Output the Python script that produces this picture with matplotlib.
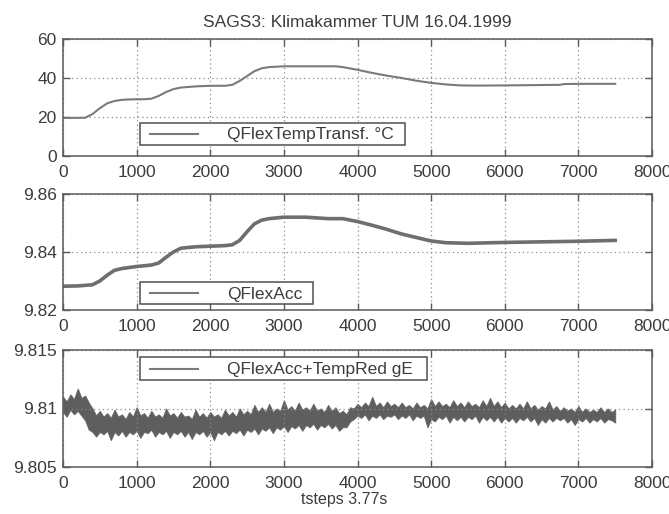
import numpy as np
import matplotlib
matplotlib.use("Agg")
import matplotlib.pyplot as plt
from matplotlib.patches import Rectangle
from matplotlib.lines import Line2D

plt.rcParams['font.family'] = ['Liberation Sans', 'DejaVu Sans']

title = "SAGS3: Klimakammer TUM 16.04.1999"
xlabel = "tsteps 3.77s"
xticks = [0, 1000, 2000, 3000, 4000, 5000, 6000, 7000, 8000]

# --- top panel: temperature
temp_label = "QFlexTempTransf. °C"
temp_x = [0, 300, 400, 500, 600, 700, 800, 900, 1000, 1100, 1200, 1300, 1400, 1500,
          1600, 1700, 1800, 2000, 2200, 2300, 2400, 2500, 2600, 2700, 2800, 3000,
          3500, 3700, 3800, 4000, 4200, 4400, 4600, 4800, 5000, 5200, 5400, 5600,
          6000, 6500, 6750, 6800, 7000, 7500]
temp_y = [19.5, 19.6, 21.5, 24.5, 27.0, 28.2, 28.8, 29.0, 29.1, 29.1, 29.4, 30.8, 32.8, 34.3,
          35.1, 35.4, 35.7, 36.0, 36.0, 36.5, 38.5, 41.0, 43.5, 45.0, 45.6, 46.0,
          46.0, 46.0, 45.6, 44.2, 42.6, 41.2, 40.0, 38.6, 37.5, 36.7, 36.2, 36.1,
          36.2, 36.4, 36.5, 36.9, 37.0, 37.0]

# --- middle panel: acceleration
acc_label = "QFlexAcc"
acc_x = [0, 200, 400, 500, 600, 700, 800, 1000, 1200, 1300, 1400, 1500, 1600, 1800,
         2000, 2200, 2300, 2400, 2500, 2600, 2700, 2800, 3000, 3300, 3600, 3800, 4000,
         4200, 4400, 4600, 4800, 5000, 5200, 5500, 6000, 6500, 7000, 7500]
acc_y = [9.8282, 9.8283, 9.8287, 9.8300, 9.8320, 9.8337, 9.8343, 9.8350, 9.8355, 9.8362,
         9.8382, 9.8400, 9.8413, 9.8418, 9.8420, 9.8422, 9.8425, 9.8440, 9.8470, 9.8497,
         9.8510, 9.8515, 9.8520, 9.8520, 9.8515, 9.8515, 9.8505, 9.8492, 9.8478, 9.8462,
         9.8450, 9.8438, 9.8432, 9.8430, 9.8433, 9.8435, 9.8437, 9.8440]

# --- bottom panel: reduced acceleration, noise envelope (upper / lower), every 50 tsteps
red_label = "QFlexAcc+TempRed gE"
red_x = list(range(0, 7501, 50))
red_upper = [
    9.8110, 9.8106, 9.8112, 9.8108, 9.8117, 9.8109, 9.8111, 9.8105, 9.8100, 9.8094,
    9.8098, 9.8093, 9.8096, 9.8092, 9.8099, 9.8093, 9.8095, 9.8091, 9.8097, 9.8093,
    9.8101, 9.8094, 9.8096, 9.8092, 9.8098, 9.8093, 9.8095, 9.8092, 9.8100, 9.8094,
    9.8096, 9.8092, 9.8097, 9.8093, 9.8094, 9.8091, 9.8099, 9.8093, 9.8096, 9.8092,
    9.8097, 9.8093, 9.8095, 9.8092, 9.8099, 9.8094, 9.8097, 9.8093, 9.8100, 9.8095,
    9.8098, 9.8095, 9.8103, 9.8097, 9.8101, 9.8097, 9.8104, 9.8097, 9.8100, 9.8098,
    9.8107, 9.8099, 9.8102, 9.8098, 9.8105, 9.8099, 9.8101, 9.8098, 9.8104, 9.8098,
    9.8100, 9.8097, 9.8103, 9.8098, 9.8101, 9.8096, 9.8098, 9.8095, 9.8101, 9.8100,
    9.8104, 9.8101, 9.8105, 9.8102, 9.8110, 9.8102, 9.8105, 9.8101, 9.8106, 9.8102,
    9.8104, 9.8101, 9.8105, 9.8101, 9.8103, 9.8100, 9.8105, 9.8101, 9.8103, 9.8100,
    9.8108, 9.8102, 9.8106, 9.8102, 9.8104, 9.8101, 9.8107, 9.8102, 9.8105, 9.8101,
    9.8106, 9.8102, 9.8104, 9.8101, 9.8107, 9.8102, 9.8109, 9.8102, 9.8106, 9.8101,
    9.8105, 9.8100, 9.8103, 9.8100, 9.8104, 9.8100, 9.8106, 9.8100, 9.8103, 9.8099,
    9.8102, 9.8100, 9.8106, 9.8099, 9.8102, 9.8098, 9.8101, 9.8098, 9.8100, 9.8097,
    9.8102, 9.8097, 9.8100, 9.8097, 9.8099, 9.8097, 9.8101, 9.8097, 9.8100, 9.8097,
    9.8099]
red_lower = [
    9.8097, 9.8093, 9.8099, 9.8095, 9.8098, 9.8094, 9.8090, 9.8082, 9.8080, 9.8076,
    9.8080, 9.8078, 9.8081, 9.8073, 9.8080, 9.8077, 9.8081, 9.8076, 9.8080, 9.8078,
    9.8081, 9.8075, 9.8080, 9.8079, 9.8082, 9.8076, 9.8080, 9.8078, 9.8081, 9.8075,
    9.8080, 9.8078, 9.8081, 9.8076, 9.8080, 9.8074, 9.8080, 9.8078, 9.8081, 9.8076,
    9.8080, 9.8073, 9.8080, 9.8078, 9.8081, 9.8077, 9.8081, 9.8079, 9.8082, 9.8077,
    9.8082, 9.8080, 9.8083, 9.8078, 9.8083, 9.8081, 9.8084, 9.8079, 9.8084, 9.8082,
    9.8085, 9.8080, 9.8085, 9.8083, 9.8086, 9.8081, 9.8086, 9.8084, 9.8087, 9.8082,
    9.8086, 9.8084, 9.8087, 9.8083, 9.8086, 9.8081, 9.8084, 9.8084, 9.8089, 9.8091,
    9.8094, 9.8092, 9.8095, 9.8090, 9.8094, 9.8092, 9.8095, 9.8091, 9.8094, 9.8093,
    9.8095, 9.8091, 9.8094, 9.8092, 9.8095, 9.8090, 9.8094, 9.8092, 9.8094, 9.8084,
    9.8091, 9.8089, 9.8093, 9.8091, 9.8094, 9.8088, 9.8093, 9.8090, 9.8093, 9.8089,
    9.8093, 9.8091, 9.8094, 9.8088, 9.8093, 9.8090, 9.8093, 9.8089, 9.8093, 9.8088,
    9.8092, 9.8089, 9.8092, 9.8088, 9.8092, 9.8090, 9.8093, 9.8089, 9.8092, 9.8086,
    9.8091, 9.8088, 9.8092, 9.8089, 9.8092, 9.8090, 9.8092, 9.8088, 9.8091, 9.8086,
    9.8091, 9.8089, 9.8092, 9.8088, 9.8091, 9.8089, 9.8092, 9.8088, 9.8091, 9.8090,
    9.8088]

W, H = 669, 514
fig = plt.figure(figsize=(W / 100, H / 100), dpi=100)
fig.patch.set_facecolor('white')

FRAME = '#5a5a5a'
TXT = '#3c3c3c'
LINE = '#7a7a7a'
FS = 12.5

def px_box(x0, y0, x1, y1):
    return [x0 / W, 1 - y1 / H, (x1 - x0) / W, (y1 - y0) / H]

ax1 = fig.add_axes(px_box(63, 39, 652, 156))
ax2 = fig.add_axes(px_box(63, 194, 652, 310))
ax3 = fig.add_axes(px_box(63, 350, 652, 467))

def style(ax, ylim, yticks, ylabels):
    ax.set_xlim(0, 8000)
    ax.set_ylim(*ylim)
    ax.set_xticks(xticks)
    ax.set_xticklabels([str(t) for t in xticks])
    ax.set_yticks(yticks)
    ax.set_yticklabels(ylabels)
    ax.grid(True, color='#8a8a8a', linestyle=(0, (1, 2.5)), linewidth=0.9)
    ax.tick_params(direction='in', top=True, right=True, length=5, width=1,
                   color=FRAME, labelcolor=TXT, labelsize=FS)
    ax.tick_params(axis='x', pad=6.5)
    ax.tick_params(axis='y', pad=4.5)
    for s in ax.spines.values():
        s.set_color(FRAME)
        s.set_linewidth(1.1)

def legend_box(ax, x0, y0, x1, y1, text):
    fig_tr = fig.transFigure
    ax.add_patch(Rectangle((x0 / W, 1 - y1 / H), (x1 - x0) / W, (y1 - y0) / H,
                           transform=fig_tr, facecolor='white', edgecolor='#505050',
                           linewidth=1.1, clip_on=False, zorder=5))
    yc = (y0 + y1) / 2
    ax.add_line(Line2D([(x0 + 10) / W, (x0 + 58) / W], [1 - yc / H, 1 - yc / H],
                       transform=fig_tr, color=LINE, linewidth=1.5, clip_on=False, zorder=6))
    ax.text((x0 + 87) / W, 1 - (yc + 1) / H, text, transform=fig_tr, fontsize=FS,
            color=TXT, va='center', ha='left', zorder=7)

# top
ax1.plot(temp_x, temp_y, color=LINE, linewidth=1.5)
style(ax1, (0, 60), [0, 20, 40, 60], ['0', '20', '40', '60'])
ax1.set_title(title, fontsize=FS, color=TXT, pad=9)
legend_box(ax1, 140, 123, 405, 145, temp_label)

# middle
ax2.plot(acc_x, acc_y, color='#6e6e6e', linewidth=2.6)
style(ax2, (9.82, 9.86), [9.82, 9.84, 9.86], ['9.82', '9.84', '9.86'])
legend_box(ax2, 140, 282, 313, 304, acc_label)

# bottom
ax3.fill_between(red_x, red_lower, red_upper, color='#5e5e5e', linewidth=0.7,
                 edgecolor='#666666')
style(ax3, (9.805, 9.815), [9.805, 9.81, 9.815], ['9.805', '9.81', '9.815'])
legend_box(ax3, 140, 357, 427, 380, red_label)
ax3.set_xlabel(xlabel, fontsize=11.5, color=TXT, labelpad=2)
ax3.xaxis.set_label_coords(0.478, -0.215)

fig.savefig('out.png', dpi=100, facecolor='white')
